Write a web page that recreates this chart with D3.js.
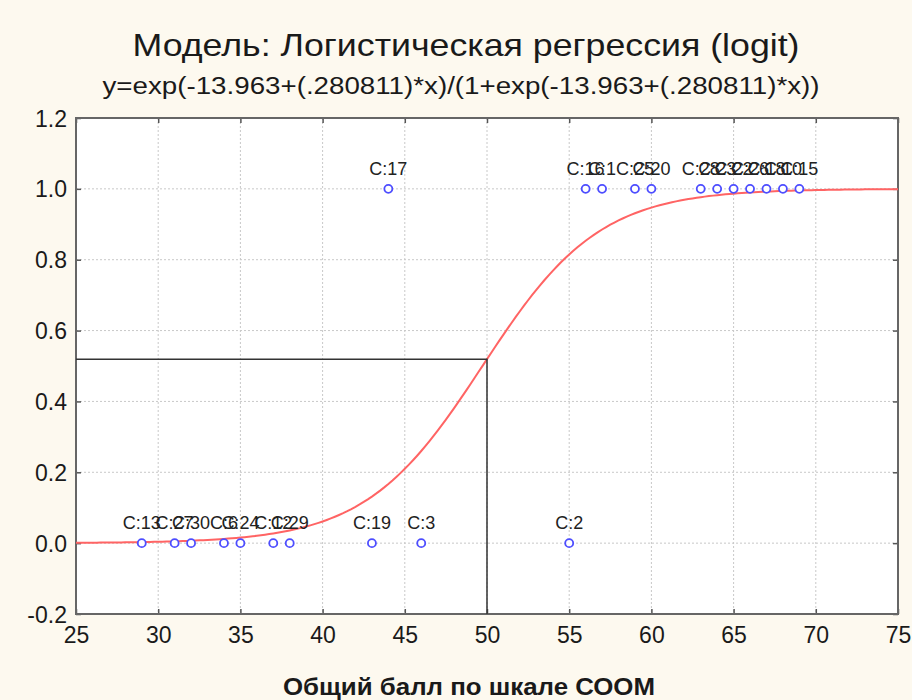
<!DOCTYPE html>
<html>
<head>
<meta charset="utf-8">
<script src="https://cdn.jsdelivr.net/npm/d3@7"></script>
<style>
  body { margin: 0; background: #fdf9ef; }
  text { font-family: "Liberation Sans", Arial, sans-serif; }
</style>
</head>
<body>
<div id="chart"></div>
<script>
// observations: score, outcome, case label
const obsX = [29, 31, 32, 34, 35, 37, 38, 43, 46, 55,
              44, 56, 57, 59, 60, 63, 64, 65, 66, 67, 68, 69];
const obsY = [0, 0, 0, 0, 0, 0, 0, 0, 0, 0,
              1, 1, 1, 1, 1, 1, 1, 1, 1, 1, 1, 1];
const obsLabels = ["C:13", "C:27", "C:30", "C:6", "C:24", "C:12", "C:29", "C:19", "C:3", "C:2",
                   "C:17", "C:16", "C:1", "C:25", "C:20", "C:28", "C:23", "C:22", "C:26", "C:18", "C:10", "C:15"];

// fitted model from the subtitle: intercept, slope
const coef = [-13.963, 0.280811];
const cutX = 50;

const xTicks = [25, 30, 35, 40, 45, 50, 55, 60, 65, 70, 75];
const yTicks = [-0.2, 0, 0.2, 0.4, 0.6, 0.8, 1.0, 1.2];

const W = 912, H = 700;
const margin = {top: 118, right: 14, bottom: 86, left: 76};
const width = W - margin.left - margin.right,
      height = H - margin.top - margin.bottom;

const svg = d3.select("#chart")
  .append("svg")
    .attr("width", W)
    .attr("height", H);

// titles
svg.append("text")
    .attr("x", 466).attr("y", 56)
    .attr("text-anchor", "middle")
    .style("font-size", "32px")
    .attr("textLength", 667)
    .attr("lengthAdjust", "spacingAndGlyphs")
    .attr("fill", "#1a1a1a")
    .text("Модель: Логистическая регрессия (logit)");
svg.append("text")
    .attr("x", 461).attr("y", 94)
    .attr("text-anchor", "middle")
    .style("font-size", "23px")
    .attr("textLength", 717)
    .attr("lengthAdjust", "spacingAndGlyphs")
    .attr("fill", "#1a1a1a")
    .text("y=exp(-13.963+(.280811)*x)/(1+exp(-13.963+(.280811)*x))");

const g = svg.append("g")
    .attr("transform", `translate(${margin.left},${margin.top})`);

const x = d3.scaleLinear().domain([25, 75]).range([0, width]);
const y = d3.scaleLinear().domain([-0.2, 1.2]).range([height, 0]);

// plot background
g.append("rect")
    .attr("width", width).attr("height", height)
    .attr("fill", "#fff");

// dotted grid
g.selectAll(".vgrid")
  .data(xTicks.slice(1, -1))
  .join("line")
    .attr("x1", d => x(d)).attr("x2", d => x(d))
    .attr("y1", 0).attr("y2", height)
    .attr("stroke", "#c8c8c8")
    .attr("stroke-dasharray", "2,2");
g.selectAll(".hgrid")
  .data(yTicks.slice(1, -1))
  .join("line")
    .attr("y1", d => y(d)).attr("y2", d => y(d))
    .attr("x1", 0).attr("x2", width)
    .attr("stroke", "#c8c8c8")
    .attr("stroke-dasharray", "2,2");

// axes with inward ticks
const fmtY = d => d3.format(".1f")(d).replace("−", "-");
const xAxis = g.append("g")
    .attr("transform", `translate(0,${height})`)
    .call(d3.axisBottom(x).tickValues(xTicks).tickSizeInner(-5).tickSizeOuter(0).tickPadding(12));
const xTop = g.append("g")
    .call(d3.axisTop(x).tickValues(xTicks).tickSizeInner(-5).tickSizeOuter(0).tickFormat(""));
const yAxis = g.append("g")
    .call(d3.axisLeft(y).tickValues(yTicks).tickSizeInner(-5).tickSizeOuter(0).tickPadding(9)
      .tickFormat(fmtY));
const yRight = g.append("g")
    .attr("transform", `translate(${width},0)`)
    .call(d3.axisRight(y).tickValues(yTicks).tickSizeInner(-5).tickSizeOuter(0).tickFormat(""));

[xAxis, xTop, yAxis, yRight].forEach(a => {
  a.select(".domain").remove();
  a.selectAll("line").attr("stroke", "#555").attr("stroke-width", 1.5);
  a.selectAll("text")
    .attr("fill", "#1a1a1a")
    .style("font-size", "23px")
    .style("font-family", "'Liberation Sans', Arial, sans-serif");
});
xAxis.selectAll("text").attr("dy", "0.75em");
yAxis.selectAll("text").attr("dy", "0.35em");

// frame
g.append("rect")
    .attr("width", width).attr("height", height)
    .attr("fill", "none")
    .attr("stroke", "#666")
    .attr("stroke-width", 2);

// logistic curve
const logit = v => Math.exp(coef[0] + coef[1] * v) / (1 + Math.exp(coef[0] + coef[1] * v));
g.append("path")
    .datum(d3.range(25, 75.01, 0.25))
    .attr("fill", "none")
    .attr("stroke", "#ff6464")
    .attr("stroke-width", 2)
    .attr("d", d3.line().x(d => x(d)).y(d => y(logit(d))));

// cut-off lines
g.append("path")
    .attr("fill", "none")
    .attr("stroke", "#333")
    .attr("stroke-width", 1.5)
    .attr("d", `M0,${y(logit(cutX))}H${x(cutX)}V${height}`);

// observations
const obs = obsX.map((v, i) => ({x: v, y: obsY[i], label: obsLabels[i]}));
g.selectAll(".pt")
  .data(obs)
  .join("circle")
    .attr("cx", d => x(d.x))
    .attr("cy", d => y(d.y))
    .attr("r", 4)
    .attr("fill", "#fff")
    .attr("stroke", "#4d4dff")
    .attr("stroke-width", 1.8);
g.selectAll(".lbl")
  .data(obs)
  .join("text")
    .attr("x", d => x(d.x))
    .attr("y", d => y(d.y) - 14)
    .attr("text-anchor", "middle")
    .attr("fill", "#222")
    .style("font-size", "18px")
    .text(d => d.label);

// x axis title
svg.append("text")
    .attr("x", 469).attr("y", 695)
    .attr("text-anchor", "middle")
    .style("font-size", "24px")
    .style("font-weight", "bold")
    .attr("textLength", 372)
    .attr("lengthAdjust", "spacingAndGlyphs")
    .attr("fill", "#1a1a1a")
    .text("Общий балл по шкале СООМ");
</script>
</body>
</html>
